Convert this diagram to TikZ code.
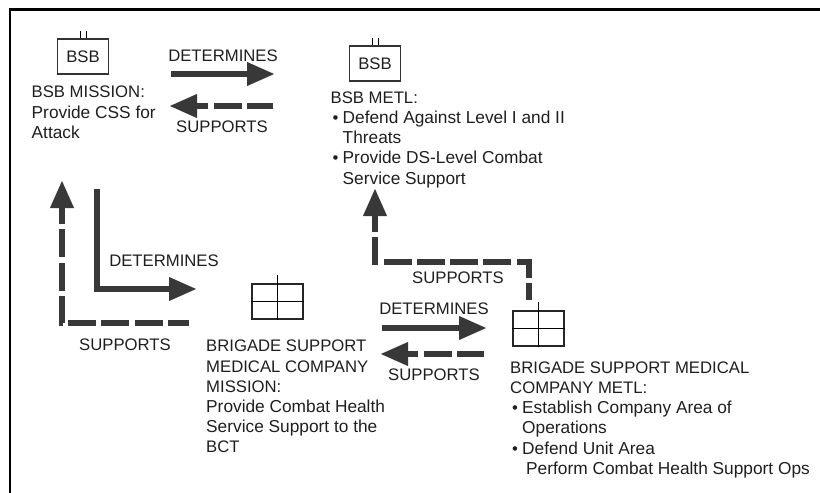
\documentclass[tikz,border=0pt]{standalone}
\usepackage{fontspec}
\setmainfont{Liberation Sans}
\usetikzlibrary{arrows.meta}
\usetikzlibrary{positioning}
\definecolor{inkgray}{gray}{0.22}
\newcommand{\bul}{\hspace*{2pt}\makebox[10pt][l]{•}}
\newcommand{\lc}{\fontsize{17.3}{20.2}\selectfont}
\tikzset{
    lbl/.style = {font=\fontsize{16.7}{20.2}\selectfont, text=black!88, inner sep=0pt, align=left},
    flow/.style = {line width=6.5pt, inkgray, -{Triangle[length=28pt, width=22pt]}},
    backflow/.style = {flow, dash pattern=on 28pt off 5.3pt},
    unitbox/.style = {draw=black!80, line width=1.5pt, minimum width=51pt, minimum height=35pt, inner sep=0pt, font=\fontsize{16.7}{20}\selectfont, text=black!88},
    coybox/.style = {draw=black!85, line width=1.5pt, minimum width=51pt, minimum height=35pt, inner sep=0pt},
}
\begin{document}
\begin{tikzpicture}[x=1pt, y=-1pt]
    \useasboundingbox (0,0) rectangle (820,493);
    \draw[line width=2.5pt] (10,493) -- (10,9.5) -- (820,9.5);
    % battalion boxes
    \node[unitbox] (bsbA) at (83,56.5) {BSB};
    \node[unitbox] (bsbB) at (375,63.5) {BSB};
    \foreach \n in {bsbA, bsbB} {
        \draw[line width=1pt] ([xshift=-3pt]\n.north) -- ++(0,-7);
        \draw[line width=1pt] ([xshift=3pt]\n.north) -- ++(0,-7);
    }
    % company boxes
    \node[coybox] (coyA) at (277.5,301.5) {};
    \node[coybox] (coyB) at (538.5,328.5) {};
    \foreach \n in {coyA, coyB} {
        \draw[line width=1pt] (\n.west) -- (\n.east);
        \draw[line width=1pt] ([yshift=8pt]\n.north) -- (\n.south);
    }
    % texts
    \node[lbl, anchor=north west] (missionA) at (31.5,86) {BSB MISSION:\\{\lc Provide CSS for}\\{\lc Attack}};
    \node[lbl, anchor=north west] (metlA) at (330.5,91.5) {BSB METL:\\ \bul {\lc Defend Against Level I and II}\\ \hspace*{12pt}{\lc Threats}\\ \bul {\lc Provide DS-Level Combat}\\ \hspace*{12pt}{\lc Service Support}};
    \node[lbl, anchor=north west] (missionB) at (206,340) {BRIGADE SUPPORT\\MEDICAL COMPANY\\MISSION:\\{\lc Provide Combat Health}\\{\lc Service Support to the}\\BCT};
    \node[lbl, anchor=north west] (metlB) at (510,361.5) {BRIGADE SUPPORT MEDICAL\\COMPANY METL:\\ \bul {\lc Establish Company Area of}\\ \hspace*{12pt}{\lc Operations}\\ \bul {\lc Defend Unit Area}\\ \hspace*{16pt}{\lc Perform Combat Health Support Ops}};
    % top arrows
    \node[lbl] (detA) at (223,56) {DETERMINES};
    \coordinate (detAs) at (171,74);
    \coordinate (detAe) at (275,74);
    \draw[flow] (detAs) -- (detAe);
    \coordinate (supAs) at (273,106);
    \coordinate (supAe) at (169,106);
    \draw[backflow, dash phase=2pt] (supAs) -- (supAe);
    \node[lbl] (supA) at (222,127) {SUPPORTS};
    % left arrows
    \coordinate (leftA) at (97,189);
    \coordinate (leftB) at (97,289);
    \coordinate (leftC) at (197,289);
    \draw[flow] (leftA) -- (leftB) -- (leftC);
    \node[lbl] (detB) at (164,261) {DETERMINES};
    \coordinate (backA) at (189,323);
    \coordinate (backB) at (62,323);
    \coordinate (backC) at (62,180);
    \draw[backflow, dash phase=7pt] (backA) -- (backB) -- (backC);
    \node[lbl] (supB) at (125,345) {SUPPORTS};
    % middle arrows
    \node[lbl] (detC) at (434,309) {DETERMINES};
    \coordinate (detCs) at (382,328);
    \coordinate (detCe) at (487,328);
    \draw[flow] (detCs) -- (detCe);
    \coordinate (supCs) at (484,354);
    \coordinate (supCe) at (380,354);
    \draw[backflow, dash phase=1pt] (supCs) -- (supCe);
    \node[lbl] (supC) at (434,375) {SUPPORTS};
    % right arrow
    \coordinate (upA) at (529,300);
    \coordinate (upB) at (529,262);
    \coordinate (upC) at (375,262);
    \coordinate (upD) at (375,188);
    \draw[backflow, dash phase=11pt] (upA) -- (upB) -- (upC) -- (upD);
    \node[lbl] (supD) at (458,278) {SUPPORTS};
\end{tikzpicture}
\end{document}
